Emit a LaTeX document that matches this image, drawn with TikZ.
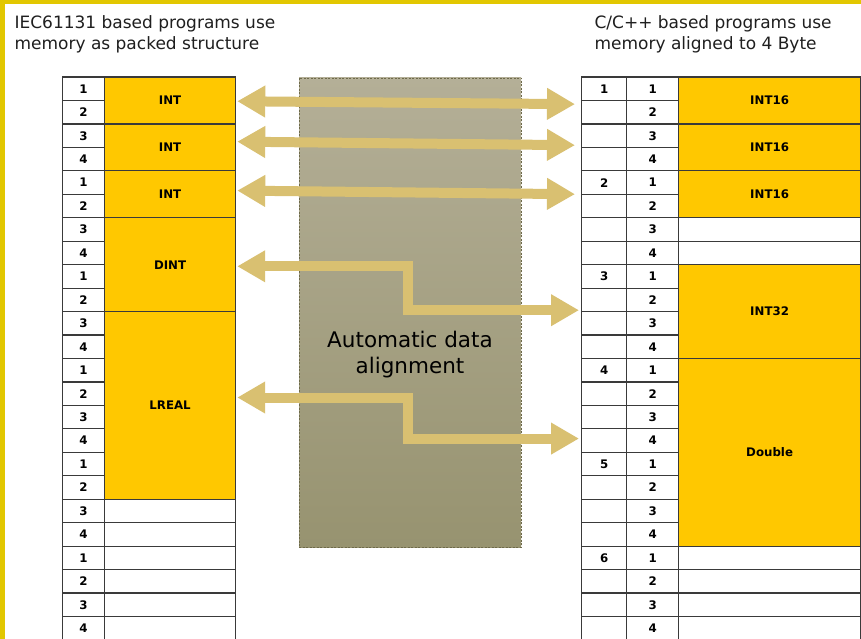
\documentclass[tikz,border=0pt]{standalone}
\usepackage{fontspec}
\setmainfont{DejaVu Sans}
\usetikzlibrary{arrows.meta, calc, positioning}
\definecolor{cyellow}{HTML}{FFC800}
\definecolor{cframe}{HTML}{E2C700}
\definecolor{carrow}{HTML}{D9C071}
\definecolor{cgrid}{HTML}{3A3A3A}
\definecolor{cboxtop}{HTML}{B4AF97}
\definecolor{cboxbot}{HTML}{979370}
\definecolor{cboxline}{HTML}{6E6A4A}
\tikzset{
  every picture/.style={x=1pt, y=-1pt, line width=1.2pt},
  cell/.style={draw=cgrid, fill=#1, anchor=north west, inner sep=0pt, minimum height=23.45pt,
               font=\bfseries\fontsize{11.8}{13}\selectfont},
  cell/.default=white,
  heading/.style={anchor=base west, align=left, inner sep=0pt, text=black!88,
                  font=\fontsize{17}{21.5}\selectfont},
  midbox/.style={draw=cboxline, dash pattern=on 2pt off 1.5pt, line width=0.7pt,
                 top color=cboxtop, bottom color=cboxbot, inner sep=0pt,
                 minimum width=222pt, minimum height=469pt},
  midtext/.style={anchor=base, align=center, inner sep=0pt, font=\fontsize{21.5}{25.8}\selectfont},
  biarrow/.style={{Triangle[length=28pt, width=30pt]}-{Triangle[length=28pt, width=30pt]},
                  draw=carrow, line width=10pt, line join=miter},
}

\begin{document}
\begin{tikzpicture}
  \useasboundingbox (0,0) rectangle (861,639);
  \fill[white] (0,0) rectangle (861,639);
  % slide frame
  \fill[cframe] (0,0) rectangle (861,4.5);
  \fill[cframe] (0,0) rectangle (4.5,639);
  % titles
  \node[heading] (ltitle) at (14,50) {IEC61131 based programs use\\memory as packed structure};
  \node[heading] (rtitle) at (594,50) {C/C++ based programs use\\memory aligned to 4 Byte};
  % byte counters
  \foreach \i in {1,...,24} {
    \pgfmathsetmacro{\ry}{76.5+(\i-1)*23.45}
    \pgfmathtruncatemacro{\bytenr}{mod(\i-1,4)+1}
    \pgfmathtruncatemacro{\wordnr}{(\i-1)/4+1}
    \node[cell, minimum width=42pt] (l\i) at (62,\ry) {\bytenr};
    \node[cell, minimum width=45pt] (ra\i) at (581,\ry) {\ifnum\bytenr=1 \wordnr\fi};
    \node[cell, minimum width=52pt] (rb\i) at (626,\ry) {\bytenr};
  }
  % packed variables
  \foreach \nm/\first/\len/\txt/\clr in {lint1/1/2/INT/cyellow, lint2/3/2/INT/cyellow, lint3/5/2/INT/cyellow,
      ldint/7/4/DINT/cyellow, lreal/11/8/LREAL/cyellow, le19/19/1//white, le20/20/1//white,
      le21/21/1//white, le22/22/1//white, le23/23/1//white, le24/24/1//white} {
    \pgfmathsetmacro{\ry}{76.5+(\first-1)*23.45}
    \pgfmathsetmacro{\rh}{\len*23.45}
    \node[cell=\clr, minimum width=131pt, minimum height=\rh pt] (\nm) at (104,\ry) {\txt};
  }
  % aligned variables
  \foreach \nm/\first/\len/\txt/\clr in {rint1/1/2/INT16/cyellow, rint2/3/2/INT16/cyellow, rint3/5/2/INT16/cyellow,
      re7/7/1//white, re8/8/1//white, rint32/9/4/INT32/cyellow, rdbl/13/8/Double/cyellow,
      re21/21/1//white, re22/22/1//white, re23/23/1//white, re24/24/1//white} {
    \pgfmathsetmacro{\ry}{76.5+(\first-1)*23.45}
    \pgfmathsetmacro{\rh}{\len*23.45}
    \node[cell=\clr, minimum width=182pt, minimum height=\rh pt] (\nm) at (678,\ry) {\txt};
  }
  % alignment box
  \node[midbox] (box) at (410,312.5) {};
  \node[midtext] (lbl) at (410,373.5) {Automatic data\\alignment};
  % mapping arrows
  \draw[biarrow] ($(lint1.east)+(1,0.7)$) -- ($(ra1.south west)+(-6,3)$);
  \draw[biarrow] ($(lint2.east)+(1,-5.8)$) -- ($(ra3.south west)+(-6,-2.85)$);
  \draw[biarrow] ($(lint3.east)+(1,-3.75)$) -- ($(ra5.south west)+(-6,-0.75)$);
  \coordinate (d1) at ($(ldint.east)+(1,1.6)$);
  \coordinate (d2) at ($(ra10.south west)+(-2,-2)$);
  \draw[biarrow] (d1) -| ($(d1)!0.5!(d2)$) |- (d2);
  \coordinate (e1) at ($(lreal.east)+(1,-7.9)$);
  \coordinate (e2) at ($(ra16.west)+(-2,-2)$);
  \draw[biarrow] (e1) -| ($(e1)!0.5!(e2)$) |- (e2);
\end{tikzpicture}
\end{document}
